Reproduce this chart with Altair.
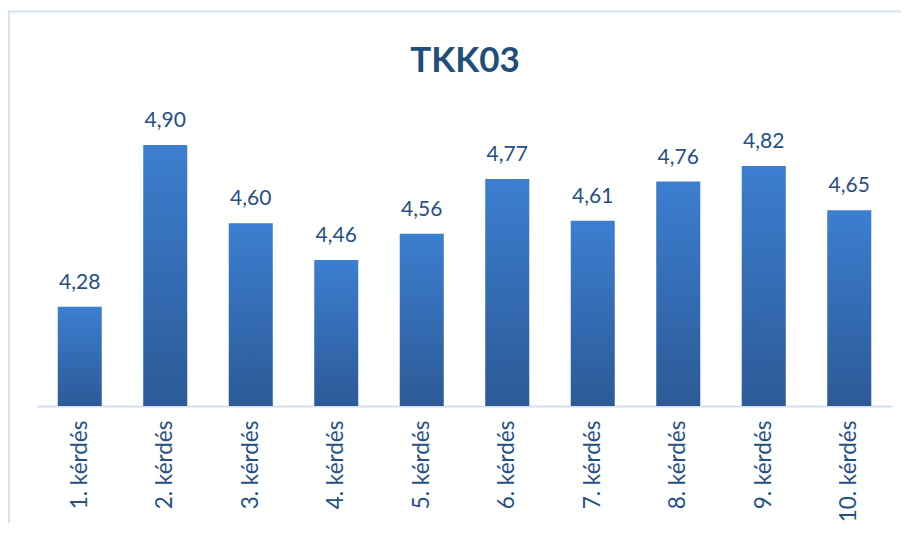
import altair as alt
import pandas as pd

title_text = "TKK03"
questions = ["1. kérdés", "2. kérdés", "3. kérdés", "4. kérdés", "5. kérdés",
             "6. kérdés", "7. kérdés", "8. kérdés", "9. kérdés", "10. kérdés"]
values = [4.28, 4.90, 4.60, 4.46, 4.56, 4.77, 4.61, 4.76, 4.82, 4.65]
y_min = 3.9
y_max = 5.0

df = pd.DataFrame({"q": questions, "v": values, "base": [y_min] * len(values)})

x_enc = alt.X("q:N", sort=questions, title=None,
              scale=alt.Scale(paddingInner=0.485, paddingOuter=0.2425),
              axis=alt.Axis(labelAngle=270, labelFont="Lato", labelFontSize=22.5,
                            labelColor="#264F84", labelPadding=14, ticks=False,
                            domainColor="#D3DEEF", domainWidth=2, labelAlign="right",
                            labelBaseline="middle"))
y_enc = alt.Y("v:Q", scale=alt.Scale(domain=[y_min, y_max], zero=False, nice=False),
              axis=None)

base = alt.Chart(df)

bars = base.mark_bar(
    color=alt.Gradient(gradient="linear",
                       stops=[alt.GradientStop(color="#3C7ED0", offset=0),
                              alt.GradientStop(color="#2C5A97", offset=1)],
                       x1=1, x2=1, y1=0, y2=1)
).encode(x=x_enc, y=y_enc, y2="base:Q")

labels = base.mark_text(dy=-18, baseline="alphabetic", font="Lato", fontSize=21,
                        color="#264F84").transform_calculate(
    lab="replace(format(datum.v, '.2f'), '.', ',')"
).encode(x=x_enc, y=y_enc, text="lab:N")

border = alt.Chart(pd.DataFrame({"a": [0]})).mark_rect(
    fill=None, stroke="#D6E1F2", strokeWidth=2
).encode(x=alt.value(-28), x2=alt.value(1100), y=alt.value(-107.5), y2=alt.value(800))

title = alt.Chart(pd.DataFrame({"t": [title_text]})).mark_text(
    font="Lato", fontSize=35, fontWeight="bold", color="#1F4E79",
    align="center", baseline="alphabetic"
).encode(text="t:N", x=alt.value(428), y=alt.value(-47))

chart = alt.layer(border, bars, labels, title).properties(
    width=855, height=287,
    autosize=alt.AutoSizeParams(type="none"),
    padding={"left": 29, "top": 111, "right": 9, "bottom": 117},
).configure_view(stroke=None).configure_axis(grid=False)

chart.save("out.html", embed_options={"renderer": "svg", "actions": False})
